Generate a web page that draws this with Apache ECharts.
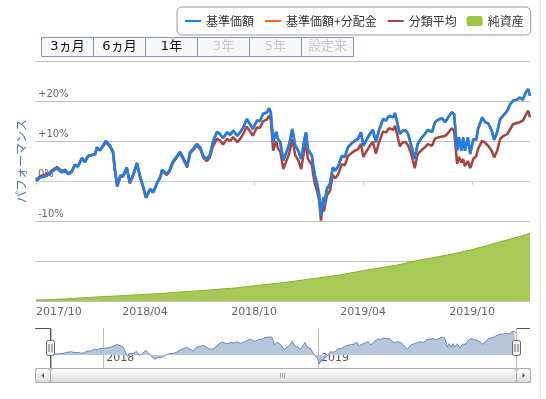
<!DOCTYPE html>
<html>
<head>
<meta charset="utf-8">
<script src="https://cdn.jsdelivr.net/npm/echarts@6/dist/echarts.min.js"></script>
<style>
  html, body { margin: 0; padding: 0; background: #fff; }
  #chart { width: 546px; height: 399px; }
</style>
</head>
<body>
<div id="chart"></div>
<script>
// 日付（基準価額・分類平均の観測点）
const dates = [
  '2017-10-04','2017-10-11','2017-10-19','2017-10-27','2017-11-01','2017-11-08','2017-11-16','2017-11-22','2017-11-27','2017-12-03',
  '2017-12-08','2017-12-13','2017-12-20','2017-12-25','2017-12-30','2018-01-06','2018-01-11','2018-01-14','2018-01-19','2018-01-24',
  '2018-01-29','2018-02-05','2018-02-10','2018-02-13','2018-02-17','2018-02-22','2018-02-27','2018-03-05','2018-03-10','2018-03-15',
  '2018-03-22','2018-03-27','2018-04-01','2018-04-06','2018-04-13','2018-04-18','2018-04-21','2018-04-25','2018-04-30','2018-05-03',
  '2018-05-11','2018-05-16','2018-05-21','2018-05-28','2018-06-02','2018-06-07','2018-06-14','2018-06-19','2018-06-24','2018-06-30',
  '2018-07-06','2018-07-11','2018-07-17','2018-07-22','2018-07-27','2018-08-03','2018-08-08','2018-08-13','2018-08-20','2018-08-25',
  '2018-08-30','2018-09-06','2018-09-11','2018-09-16','2018-09-22','2018-09-27','2018-10-02','2018-10-09','2018-10-14','2018-10-19',
  '2018-10-26','2018-10-29','2018-11-01','2018-11-05','2018-11-10','2018-11-13','2018-11-17','2018-11-22','2018-11-28','2018-12-02',
  '2018-12-07','2018-12-12','2018-12-17','2018-12-22','2018-12-27','2018-12-30','2019-01-02','2019-01-09','2019-01-11','2019-01-14',
  '2019-01-17','2019-01-21','2019-01-24','2019-01-28','2019-01-29','2019-02-03','2019-02-08','2019-02-13','2019-02-17','2019-02-22',
  '2019-02-28','2019-03-05','2019-03-10','2019-03-17','2019-03-22','2019-03-27','2019-04-01','2019-04-05','2019-04-11','2019-04-16',
  '2019-04-21','2019-04-26','2019-05-01','2019-05-08','2019-05-13','2019-05-18','2019-05-25','2019-05-28','2019-05-31','2019-06-05',
  '2019-06-10','2019-06-15','2019-06-19','2019-06-25','2019-06-30','2019-07-05','2019-07-12','2019-07-17','2019-07-22','2019-07-29',
  '2019-08-03','2019-08-08','2019-08-15','2019-08-20','2019-08-25','2019-08-31','2019-09-04','2019-09-09','2019-09-12','2019-09-16',
  '2019-09-19','2019-09-22','2019-09-27','2019-10-01','2019-10-06','2019-10-11','2019-10-14','2019-10-21','2019-10-26','2019-10-31',
  '2019-11-06','2019-11-10','2019-11-15','2019-11-20','2019-11-25','2019-12-02','2019-12-07','2019-12-12','2019-12-18','2019-12-23',
  '2019-12-28','2020-01-02','2020-01-06','2020-01-09'
];

// 基準価額 騰落率（%）
const kijunValues = [
  0.0, 0.9, 1.2, 1.7, 2.5, 3.2, 2.2, 2.5, 1.7, 2.3,
  4.0, 3.6, 5.7, 4.7, 6.2, 6.5, 6.7, 8.4, 7.7, 8.8,
  10.0, 8.8, 7.3, 3.0, -1.3, 1.3, 1.4, 3.4, -0.3, 1.3,
  4.5, 1.3, -1.2, -4.1, -2.0, -2.7, -1.8, -0.3, 1.0, 2.8,
  1.75, 2.8, 4.8, 6.2, 7.3, 5.9, 3.7, 7.2, 8.0, 9.25,
  8.4, 6.2, 5.5, 6.5, 9.7, 12.3, 11.75, 10.7, 12.2, 11.5,
  12.6, 11.3, 12.2, 13.4, 15.5, 14.25, 13.0, 15.1, 15.0, 16.75,
  17.2, 18.2, 17.2, 9.7, 12.3, 10.5, 9.7, 5.1, 7.6, 9.25,
  13.0, 8.8, 7.6, 5.5, 10.1, 12.2, 8.0, 6.3, 3.8, 1.3,
  -0.3, -3.25, -8.7, -4.1, -6.2, -2.0, -0.75, 3.4, 2.6, 3.7,
  6.3, 6.0, 8.4, 9.5, 10.1, 10.5, 12.2, 8.8, 10.5, 11.75,
  12.8, 9.7, 12.6, 15.5, 15.1, 16.3, 15.9, 17.0, 15.1, 11.75,
  12.6, 12.6, 11.75, 8.4, 5.5, 9.25, 10.9, 11.75, 12.8, 12.2,
  14.7, 15.3, 15.7, 14.7, 15.9, 17.2, 16.7, 7.6, 10.9, 7.6,
  10.9, 7.6, 10.9, 6.75, 10.5, 10.3, 13.0, 15.9, 14.7, 14.4,
  12.6, 10.3, 12.2, 15.5, 16.3, 17.6, 19.25, 20.1, 20.3, 20.9,
  20.3, 22.2, 23.0, 21.3
];

// 基準価額+分配金（分配実績なしのため基準価額と重なって見える）
const bunpaiValues = kijunValues.slice();

// 分類平均 騰落率（%）
const bunruiValues = [
  0.3, 1.2, 1.6, 2.1, 2.8, 3.5, 2.5, 2.8, 1.9, 2.5,
  4.1, 3.7, 5.8, 4.8, 6.3, 6.5, 6.8, 8.3, 7.6, 8.6,
  9.7, 8.5, 7.0, 2.7, -1.4, 1.0, 1.1, 3.1, -0.6, 1.0,
  4.2, 1.0, -1.4, -4.2, -2.2, -2.9, -2.0, -0.5, 0.8, 2.5,
  1.5, 2.5, 4.5, 5.9, 7.0, 5.6, 3.4, 6.9, 7.7, 8.9,
  8.0, 5.8, 5.0, 5.9, 8.6, 10.6, 10.1, 9.1, 10.6, 9.9,
  11.0, 9.7, 10.6, 11.8, 13.6, 12.5, 11.3, 13.4, 13.3, 14.9,
  15.4, 16.3, 15.4, 7.6, 10.0, 8.2, 7.3, 3.0, 5.3, 7.0,
  10.5, 6.4, 5.2, 3.0, 7.6, 9.8, 5.6, 4.0, 1.6, -0.8,
  -2.2, -4.8, -9.9, -5.6, -7.6, -3.6, -2.5, 1.5, 0.7, 1.7,
  4.2, 3.9, 6.2, 7.1, 7.6, 7.9, 9.3, 6.0, 7.6, 8.8,
  9.8, 6.8, 9.6, 12.4, 12.1, 13.2, 12.8, 13.8, 12.0, 8.7,
  9.7, 9.7, 8.9, 6.3, 3.2, 6.75, 7.8, 8.4, 9.2, 8.8,
  10.6, 10.9, 11.1, 11.25, 12.0, 13.2, 12.5, 4.25, 6.0, 4.6,
  5.5, 3.7, 5.0, 3.2, 5.5, 6.25, 8.0, 10.1, 9.5, 8.8,
  7.5, 5.9, 7.5, 10.5, 11.2, 11.75, 13.0, 14.25, 14.5, 14.7,
  15.1, 16.5, 17.6, 15.9
];

// 純資産（月次）
const netDates = [
  '2017-10-04','2017-11-01','2017-12-01','2018-01-01','2018-02-01','2018-03-01','2018-04-01','2018-05-01','2018-06-01','2018-07-01',
  '2018-08-01','2018-09-01','2018-10-01','2018-11-01','2018-12-01','2019-01-01','2019-02-01','2019-03-01','2019-04-01','2019-05-01',
  '2019-06-01','2019-07-01','2019-08-01','2019-09-01','2019-10-01','2019-11-01','2019-12-01','2020-01-01','2020-01-09'
];
const netValues = [
  0.4, 0.6, 1.0, 1.5, 1.9, 2.3, 2.7, 3.1, 3.75, 4.2,
  4.8, 5.4, 6.25, 7.1, 7.9, 9.0, 10.0, 11.0, 12.5, 13.75,
  15.0, 16.7, 18.1, 19.6, 21.25, 23.3, 25.4, 27.5, 28.3
];

// ナビゲーターの年ラベル軸の範囲（ナビゲーターは営業日ベースで少し詰まって見える）
const navLabelRange = ['2017-10-04', '2019-12-04'];

const rangeButtons = ['3ヵ月', '6ヵ月', '1年', '3年', '5年', '設定来'];
const rangeEnabled = [true, true, true, false, false, false];

const FONT = "'DejaVu Sans', 'Noto Sans CJK JP', sans-serif";
const CJK = "'Noto Sans CJK JP', sans-serif";
const BASE = Date.UTC(2017, 9, 1);
const DAY = 86400000;
const toDay = s => {
  const p = s.split('-').map(Number);
  return Math.round((Date.UTC(p[0], p[1] - 1, p[2]) - BASE) / DAY);
};
const pairs = (ds, vs) => ds.map((d, i) => [toDay(d), vs[i]]);
const xMin = toDay(dates[0]);
const xMax = toDay(dates[dates.length - 1]);

const chart = echarts.init(document.getElementById('chart'));

const btnFill = () => new echarts.graphic.LinearGradient(0, 0, 0, 1, [
  { offset: 0, color: '#ffffff' }, { offset: 1, color: '#dcdcdc' }
]);

// レンジボタン
const buttonGraphics = [];
rangeButtons.forEach((label, i) => {
  const x = 41.5 + i * 52;
  buttonGraphics.push({
    type: 'rect', shape: { x: x, y: 37.5, width: 52, height: 19 },
    style: { fill: '#f7f7f7', stroke: '#8496b0', lineWidth: 1 }, z: 10
  });
  buttonGraphics.push({
    type: 'text', x: x + 26, y: 47, z: 11,
    style: { text: label, font: '13px ' + FONT, fill: rangeEnabled[i] ? '#111' : '#c8c8c8',
             align: 'center', verticalAlign: 'middle' }
  });
});

// ナビゲーター枠・ハンドル・スクロールバー
const navGraphics = [
  { type: 'polyline', shape: { points: [[35, 328.5], [50.5, 328.5], [50.5, 368]] }, style: { stroke: '#555', lineWidth: 1, fill: null } },
  { type: 'polyline', shape: { points: [[530, 328.5], [516.5, 328.5], [516.5, 368]] }, style: { stroke: '#555', lineWidth: 1, fill: null } },
  { type: 'rect', shape: { x: 35.5, y: 368.5, width: 495, height: 14 }, style: { fill: '#eeeeee', stroke: '#bbbbbb' } },
  { type: 'rect', shape: { x: 50.5, y: 368.5, width: 466, height: 14, r: 3 }, style: { fill: btnFill(), stroke: '#aaaaaa' } },
  { type: 'rect', shape: { x: 35.5, y: 368.5, width: 15, height: 14, r: 3 }, style: { fill: btnFill(), stroke: '#aaaaaa' } },
  { type: 'rect', shape: { x: 516.5, y: 368.5, width: 14, height: 14, r: 3 }, style: { fill: btnFill(), stroke: '#aaaaaa' } },
  { type: 'polygon', shape: { points: [[44, 373], [44, 378], [41.5, 375.5]] }, style: { fill: '#555' } },
  { type: 'polygon', shape: { points: [[522.5, 373], [522.5, 378], [525, 375.5]] }, style: { fill: '#555' } },
  { type: 'line', shape: { x1: 280.5, y1: 373, x2: 280.5, y2: 378 }, style: { stroke: '#aaa' } },
  { type: 'line', shape: { x1: 282.5, y1: 373, x2: 282.5, y2: 378 }, style: { stroke: '#aaa' } },
  { type: 'line', shape: { x1: 284.5, y1: 373, x2: 284.5, y2: 378 }, style: { stroke: '#aaa' } },
  { type: 'line', shape: { x1: 540.5, y1: 0, x2: 540.5, y2: 399 }, style: { stroke: '#e6e6e6' } }
];
[50.5, 516.5].forEach(cx => {
  navGraphics.push({ type: 'rect', shape: { x: cx - 4, y: 340.5, width: 8, height: 15, r: 2 }, style: { fill: '#f2f2f2', stroke: '#666' }, z: 20 });
  navGraphics.push({ type: 'line', shape: { x1: cx - 1.5, y1: 344, x2: cx - 1.5, y2: 352 }, style: { stroke: '#666' }, z: 21 });
  navGraphics.push({ type: 'line', shape: { x1: cx + 1.5, y1: 344, x2: cx + 1.5, y2: 352 }, style: { stroke: '#666' }, z: 21 });
});

const option = {
  animation: false,
  textStyle: { fontFamily: FONT },
  legend: {
    left: 177, top: 7,
    padding: [8, 7, 8, 7],
    itemGap: 10, itemWidth: 16, itemHeight: 10,
    borderColor: '#999', borderWidth: 1, borderRadius: 5,
    textStyle: { fontSize: 12, color: '#333', fontFamily: CJK },
    data: [
      { name: '基準価額', itemStyle: { opacity: 0 } },
      { name: '基準価額+分配金', itemStyle: { opacity: 0 } },
      { name: '分類平均', itemStyle: { opacity: 0 } },
      { name: '純資産', icon: 'roundRect' }
    ]
  },
  grid: [
    { left: 36, right: 16, top: 61, bottom: 98 },
    { left: 51, right: 30, top: 328, height: 40 }
  ],
  xAxis: [
    {
      type: 'value', gridIndex: 0, min: xMin, max: xMax, interval: 182.5,
      axisLine: { show: true, lineStyle: { color: '#c0d0e0' } },
      axisTick: { show: true, length: 4, lineStyle: { color: '#c0d0e0' } },
      splitLine: { show: false },
      axisLabel: {
        margin: 6, fontSize: 11, color: '#666', showMaxLabel: false, alignMinLabel: 'left',
        formatter: v => {
          const d = new Date(BASE + v * DAY);
          return d.getUTCFullYear() + '/' + String(d.getUTCMonth() + 1).padStart(2, '0');
        }
      }
    },
    {
      type: 'time', gridIndex: 1, position: 'top', min: dates[0], max: dates[dates.length - 1], show: false
    },
    {
      type: 'time', gridIndex: 1, position: 'bottom', min: navLabelRange[0], max: navLabelRange[1],
      minInterval: 365 * DAY,
      axisLine: { show: false }, axisTick: { show: false },
      splitLine: { show: true, lineStyle: { color: '#bbbbbb' } },
      axisLabel: {
        inside: true, margin: 4, fontSize: 11, color: '#555', align: 'left', padding: [0, 0, 0, 3],
        showMinLabel: false, showMaxLabel: false, formatter: '{yyyy}'
      }
    }
  ],
  yAxis: [
    {
      type: 'value', gridIndex: 0, min: -30, max: 30, interval: 10,
      name: 'パフォーマンス', nameLocation: 'middle', nameRotate: 90, nameGap: 7,
      nameTextStyle: { color: '#4d759e', fontSize: 12, padding: [0, 0, 0, 40], fontFamily: CJK },
      axisLine: { show: false }, axisTick: { show: false },
      splitLine: { lineStyle: { color: '#c0c0c0' } },
      axisLabel: {
        inside: true, margin: 2, fontSize: 10, color: '#666', verticalAlign: 'bottom', padding: [0, 0, 2, 0],
        formatter: v => v === 0 ? '0%' : (v > 0 && v <= 20 ? '+' + v + '%' : (v === -10 ? '-10%' : ''))
      }
    },
    { type: 'value', gridIndex: 0, min: 0, max: 100, show: false, splitLine: { show: false } },
    { type: 'value', gridIndex: 1, min: -12.5, max: 26, show: false, splitLine: { show: false } }
  ],
  series: [
    {
      name: '純資産', type: 'line', xAxisIndex: 0, yAxisIndex: 1, symbol: 'none',
      data: pairs(netDates, netValues),
      color: '#9cc445',
      lineStyle: { color: '#86b22e', width: 1 },
      areaStyle: { color: '#a6ca55', opacity: 1 }, z: 1
    },
    {
      name: '分類平均', type: 'line', xAxisIndex: 0, yAxisIndex: 0, symbol: 'none',
      data: pairs(dates, bunruiValues), color: '#a8423f',
      lineStyle: { color: '#a8423f', width: 2.5 }, z: 3
    },
    {
      name: '基準価額+分配金', type: 'line', xAxisIndex: 0, yAxisIndex: 0, symbol: 'none',
      data: pairs(dates, bunpaiValues), color: '#ff6600',
      lineStyle: { color: '#ff6600', width: 2.5 }, z: 4
    },
    {
      name: '基準価額', type: 'line', xAxisIndex: 0, yAxisIndex: 0, symbol: 'none',
      data: pairs(dates, kijunValues), color: '#1a7fe8',
      lineStyle: { color: '#1a7fe8', width: 2.6 }, z: 5
    },
    {
      name: 'navigator', type: 'line', xAxisIndex: 1, yAxisIndex: 2, symbol: 'none',
      data: dates.map((d, i) => [d, kijunValues[i]]),
      lineStyle: { color: '#6688bb', width: 1 },
      areaStyle: { color: '#b5c6dd', opacity: 1 }, z: 2
    }
  ],
  graphic: buttonGraphics.concat(navGraphics)
};

chart.setOption(option);
</script>
</body>
</html>
